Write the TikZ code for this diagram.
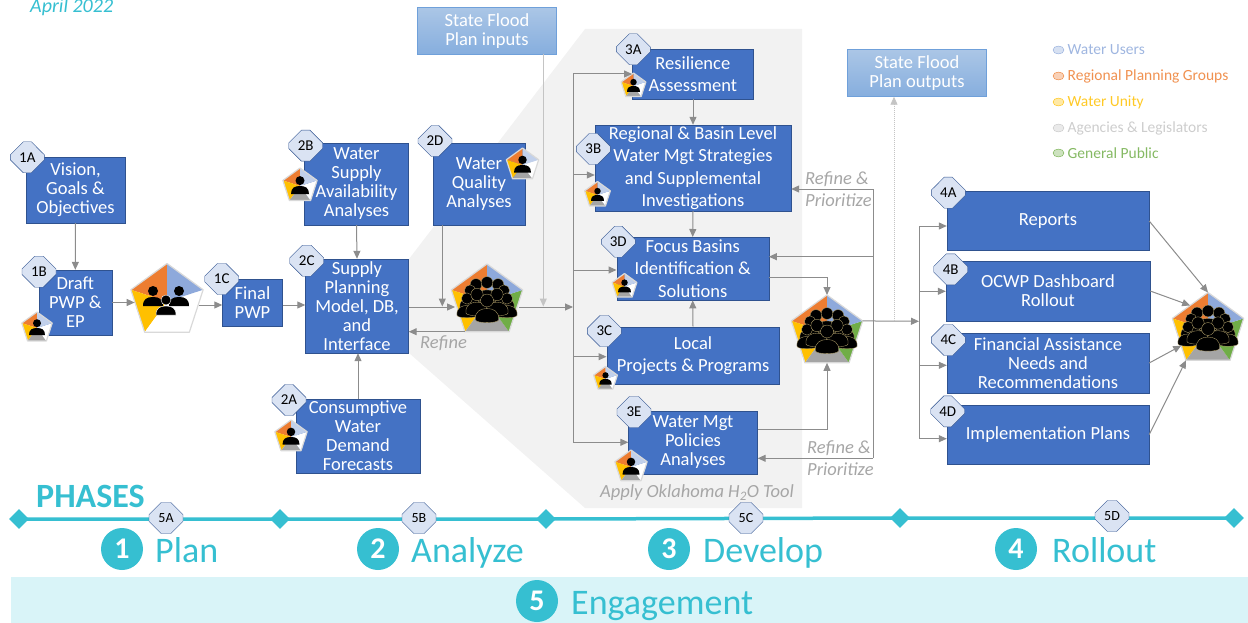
\documentclass[tikz,border=0pt]{standalone}
\usepackage{fontspec}
\setmainfont{Carlito}
\usepackage{xcolor}
\usetikzlibrary{arrows.meta,calc,shapes.geometric,shapes.misc}

\definecolor{boxblue}{HTML}{4472C4}
\definecolor{boxedge}{HTML}{2F528F}
\definecolor{hexfill}{HTML}{DAE3F3}
\definecolor{teal}{HTML}{36BFD1}
\definecolor{paleteal}{HTML}{D9F4F8}
\definecolor{panelgray}{HTML}{F2F2F2}
\definecolor{flowgray}{HTML}{8C8C8C}
\definecolor{softgray}{HTML}{C4C4C4}
\definecolor{notegray}{HTML}{A6A6A6}
\definecolor{wedgeblue}{HTML}{8EA9DB}
\definecolor{wedgeorange}{HTML}{ED7D31}
\definecolor{wedgeyellow}{HTML}{FFC000}
\definecolor{wedgegray}{HTML}{A5A5A5}
\definecolor{wedgegreen}{HTML}{70AD47}
\definecolor{pentedge}{HTML}{D9D9D9}
\definecolor{floodtop}{HTML}{ABC6E6}
\definecolor{floodlow}{HTML}{86AEDE}
\definecolor{floodedge}{HTML}{6FA0DA}

\newcommand{\boxfont}{\fontsize{18.5}{19}\selectfont}
\newcommand{\widefont}{\fontsize{18.5}{22.5}\selectfont}
\newcommand{\notefont}{\fontsize{18.5}{21.5}\selectfont\itshape}

\tikzset{
  bluebox/.style 2 args={draw=boxedge, fill=boxblue, text=white, inner sep=0pt, align=center,
    font=\boxfont, minimum width=#1pt, minimum height=#2pt},
  floodbox/.style={draw=floodedge, top color=floodtop, bottom color=floodlow,
    text=white, inner sep=0pt, align=center, font=\boxfont, minimum width=139pt, minimum height=47pt},
  hexa/.style={chamfered rectangle, chamfered rectangle xsep=8pt, chamfered rectangle ysep=15.5pt, draw=boxedge, fill=hexfill,
    inner sep=0pt, minimum width=34pt, minimum height=31pt, font=\fontsize{15}{15}\selectfont},
  penta/.style={regular polygon, regular polygon sides=5, inner sep=0pt, outer sep=0pt, minimum size=#1pt},
  flow/.style={draw=flowgray, line width=1pt, -{Triangle[length=8pt,width=7pt]}},
  trunk/.style={draw=flowgray, line width=1pt},
  softflow/.style={draw=softgray, line width=1pt, -{Triangle[length=8pt,width=7pt]}},
  note/.style={text=notegray, font=\notefont, align=left, inner sep=0pt},
  knob/.style={diamond, fill=teal, inner sep=0pt, minimum size=20pt},
  phasenum/.style={circle, fill=teal, text=white, inner sep=0pt, minimum size=42pt, font=\fontsize{30}{30}\selectfont\bfseries},
  phaseword/.style={anchor=base west, text=teal, inner sep=0pt, font=\fontsize{36}{36}\selectfont},
  legdot/.style={ellipse, draw=#1, fill=#1!35!white, inner sep=0pt, minimum width=11pt, minimum height=8pt},
  person/.pic={
    \path[fill=black, pic actions] (0,0) circle (5);
    \path[fill=black, pic actions] (-10,15) .. controls (-10,8) and (-6,6) .. (0,6) .. controls (6,6) and (10,8) .. (10,15) -- cycle;
  },
  member/.pic={
    \path[fill=black, pic actions] (0,0) circle (5.6);
    \path[fill=black, pic actions] (-10,17) .. controls (-11,9) and (-5,7) .. (0,7) .. controls (5,7) and (11,9) .. (10,17)
      .. controls (9,20) and (-9,20) .. (-10,17) -- cycle;
  }
}

% name, position, diameter, then the wedges from top left round to top right
\newcommand{\pentfan}[8]{
  \node[penta=#3] (#1) at (#2) {};
  \fill[#4] (#1.center) -- (#1.corner 1) -- (#1.corner 2) -- cycle;
  \fill[#5] (#1.center) -- (#1.corner 2) -- (#1.corner 3) -- cycle;
  \fill[#6] (#1.center) -- (#1.corner 3) -- (#1.corner 4) -- cycle;
  \fill[#7] (#1.center) -- (#1.corner 4) -- (#1.corner 5) -- cycle;
  \fill[#8] (#1.center) -- (#1.corner 5) -- (#1.corner 1) -- cycle;
  \draw[pentedge, line width=1.2pt, line join=round] (#1.corner 1) -- (#1.corner 2) -- (#1.corner 3) -- (#1.corner 4) -- (#1.corner 5) -- cycle;
}
% one person on a small pentagon
\newcommand{\lonepent}[4]{
  \pentfan{#1}{#2}{#3}{wedgeorange}{wedgeyellow}{wedgegray}{white}{wedgeblue!55!white}
  \pic[scale=#4] at ($(#1.center)+(0,-#4*6)$) {person};
}
% the full crowd on a large pentagon
\newcommand{\crowdpent}[2]{
  \pentfan{#1}{#2}{75}{wedgeorange}{wedgeyellow}{wedgegray}{wedgegreen}{wedgeblue}
  \begin{scope}[shift={(#1.center)}]
    \foreach \dx/\dy/\s in {-11/-17/1.05, 11/-17/1.05, 0/-19/1.05, -17/-11/1, 17/-11/1, -20/-3/1, 20/-3/1, -10/-7/1.1, 10/-7/1.1, 0/-1/1.15}
      \pic[scale=\s, draw=wedgegray!70!wedgeyellow, line width=.3pt] at (\dx,\dy) {member};
  \end{scope}
}

\begin{document}
\begin{tikzpicture}[x=1pt, y=-1pt]
  \useasboundingbox (0,0) rectangle (1248,623);

  % backgrounds
  \fill[panelgray] (585,29) -- (802,29) -- (802,508) -- (585,508) -- (409,353) -- (409,259) -- cycle;
  \fill[paleteal] (11,577) rectangle (1248,623);
  \node[anchor=base west, inner sep=0pt, text=teal, font=\fontsize{20}{20}\selectfont\itshape] (datenote) at (30,13) {April 2022};

  % legend
  \foreach \y/\c/\t in {50/wedgeblue/Water Users, 76/wedgeorange/Regional Planning Groups, 102/wedgeyellow/Water Unity, 128/softgray/Agencies \& Legislators, 153/wedgegreen/General Public}{
    \node[legdot=\c] (dot\y) at (1058.5,\y) {};
    \node[anchor=west, inner sep=0pt, text=\c!85!white, font=\fontsize{15.5}{16}\selectfont] (leg\y) at (1067.5,\y) {\t};
  }

  % stage 1
  \node[bluebox={99}{66}] (boxa) at (75.5,190) {Vision,\\Goals \&\\Objectives};
  \node[bluebox={73}{65}] (boxb) at (75.3,302.5) {Draft\\PWP \&\\EP};
  \node[bluebox={60}{47}] (boxc) at (252.5,302.3) {Final\\PWP};
  % stage 2
  \node[bluebox={104}{82}] (boxsupply) at (356.5,184) {Water\\Supply\\Availability\\Analyses};
  \node[bluebox={103}{94}] (boxmodel) at (357,306) {Supply\\Planning\\Model, DB,\\and\\Interface};
  \node[bluebox={124}{74}] (boxdemand) at (358,436) {Consumptive\\Water\\Demand\\Forecasts};
  \node[bluebox={92}{82}] (boxquality) at (479,184) {Water\\Quality\\Analyses};
  % stage 3
  \node[bluebox={121}{50}, font=\widefont] (boxresil) at (692.8,74) {Resilience\\Assessment};
  \node[bluebox={196}{86}, font=\widefont] (boxbasin) at (693,168) {Regional \& Basin Level\\Water Mgt Strategies\\and Supplemental\\Investigations};
  \node[bluebox={152}{63}, font=\widefont] (boxfocus) at (692.7,268.7) {Focus Basins\\Identification \&\\Solutions};
  \node[bluebox={172.6}{57.6}, font=\widefont] (boxlocal) at (693,355.5) {Local\\Projects \& Programs};
  \node[bluebox={129}{63.6}] (boxpolicy) at (693,442.5) {Water Mgt\\Policies\\Analyses};
  % stage 4
  \node[bluebox={202}{59}] (boxreport) at (1048,221) {Reports};
  \node[bluebox={204}{60}] (boxdash) at (1048,291) {OCWP Dashboard\\Rollout};
  \node[bluebox={202}{60.6}] (boxfund) at (1048,363) {Financial Assistance\\Needs and\\Recommendations};
  \node[bluebox={202}{59}] (boximpl) at (1048,434.7) {Implementation Plans};
  % flood plan
  \node[floodbox] (sfin) at (487,30.7) {State Flood\\Plan inputs};
  \node[floodbox] (sfout) at (917,73) {State Flood\\Plan outputs};

  % pentagons
  \pentfan{pa}{167,301.5}{76}{wedgeorange}{wedgeyellow}{white}{white}{wedgeblue}
  \begin{scope}[shift={(pa.center)}]
    \pic at (-14,-10.5) {person};
    \pic at (12,-10.5) {person};
    \pic[draw=white, line width=.4pt] at (-1,-1.5) {person};
  \end{scope}
  \crowdpent{pb}{487,301.5}
  \crowdpent{pc}{827,332.5}
  \crowdpent{pd}{1208,330}
  \lonepent{pbox}{37,328}{32}{.8}
  \lonepent{psupply}{300,186}{36}{.9}
  \lonepent{pdemand}{291,437}{34}{.85}
  \lonepent{pquality}{522.5,165}{34}{.85}
  \lonepent{presil}{633.5,86}{26}{.65}
  \lonepent{pbasin}{597.5,195}{27}{.65}
  \lonepent{pfocus}{624.5,286.5}{26}{.65}
  \lonepent{plocal}{605.5,379}{25}{.62}
  \lonepent{ppolicy}{631,467}{34}{.85}

  % hexagon tags
  \node[hexa] (taga) at (27.3,157.3) {1A};
  \node[hexa] (tagb) at (39,271.7) {1B};
  \node[hexa] (tagc) at (221.7,279) {1C};
  \node[hexa] (tagsupply) at (305.7,145.7) {2B};
  \node[hexa] (tagmodel) at (306.7,260.7) {2C};
  \node[hexa] (tagdemand) at (289,400) {2A};
  \node[hexa] (tagquality) at (435,141) {2D};
  \node[hexa] (tagresil) at (633.3,49.3) {3A};
  \node[hexa] (tagbasin) at (593.3,149) {3B};
  \node[hexa] (tagfocus) at (618.3,241.7) {3D};
  \node[hexa] (taglocal) at (604.3,331) {3C};
  \node[hexa] (tagpolicy) at (634,412) {3E};
  \node[hexa] (tagreport) at (948.3,192.7) {4A};
  \node[hexa] (tagdash) at (950.7,269.3) {4B};
  \node[hexa] (tagfund) at (948.3,340) {4C};
  \node[hexa] (tagimpl) at (947.7,411.3) {4D};

  % junction points
  \coordinate (rowa) at (0,305);
  \coordinate (rowb) at (0,307);
  \coordinate (dropq) at (442.3,306.5);
  \coordinate (dropf) at (543.3,306.5);
  \coordinate (backb) at (0,331.7);
  \coordinate (spinetop) at (573,74);
  \coordinate (spinebasin) at (573,175);
  \coordinate (spinefocus) at (573,270);
  \coordinate (spinemid) at (573,307);
  \coordinate (spinelocal) at (573,356.7);
  \coordinate (spinelow) at (573,442.3);
  \coordinate (loopup) at (873,189);
  \coordinate (loopmid) at (873,256.7);
  \coordinate (looplow) at (873,458.3);
  \coordinate (outfocus) at (768.7,277.3);
  \coordinate (outpolicy) at (757.7,429.3);
  \coordinate (hubreport) at (919,226);
  \coordinate (hubdash) at (919,291.3);
  \coordinate (hubin) at (919,321.3);
  \coordinate (hubfund) at (919,365.3);
  \coordinate (hubimpl) at (919,438.7);
  \coordinate (upfork) at (894,321.3);

  % stage 1 and 2 connectors
  \draw[flow] (boxa.south) -- (boxb.north);
  \draw[flow] (boxb.east) -- (boxb.east -| pa.west);
  \draw[flow] (pa.east |- rowa) -- (boxc.west |- rowa);
  \draw[flow] (boxc.east |- rowa) -- (boxmodel.west |- rowa);
  \draw[flow] (boxsupply.south) -- (boxmodel.north);
  \draw[flow] (boxdemand.north) -- (boxdemand.north |- boxmodel.south);
  \draw[flow] (boxmodel.east |- rowb) -- (pb.west |- rowb);
  \draw[flow] (boxquality.south -| dropq) -- (dropq);
  \draw[flow] (pb.corner 3 |- backb) -- (boxmodel.east |- backb);
  \draw[flow] (pb.east |- rowb) -- (spinemid);
  \draw[softflow] (sfin.south -| dropf) -- (dropf);

  % stage 3 connectors
  \draw[trunk] (spinetop) -- (spinelow);
  \draw[flow] (spinetop) -- (boxresil.west);
  \draw[flow] (spinebasin) -- (spinebasin -| boxbasin.west);
  \draw[flow] (spinefocus) -- (spinefocus -| boxfocus.west);
  \draw[flow] (spinelocal) -- (spinelocal -| boxlocal.west);
  \draw[flow] (spinelow) -- (spinelow -| boxpolicy.west);
  \draw[flow] (boxresil.south -| boxbasin.north) -- (boxbasin.north);
  \draw[flow] (boxbasin.south) -- (boxfocus.north);
  \draw[flow] (boxlocal.north) -- (boxfocus.south);
  \draw[flow] (outfocus) -| (pc.corner 1);
  \draw[flow] (outpolicy) -| (pc.south);
  \draw[trunk] (loopup) -- (looplow);
  \draw[flow] (loopup) -- (loopup -| boxbasin.east);
  \draw[flow] (loopmid) -- (loopmid -| boxfocus.east);
  \draw[flow] (looplow) -- (looplow -| boxpolicy.east);

  % stage 4 connectors
  \draw[flow] (pc.corner 5) -- (hubin);
  \draw[softflow, densely dotted, line width=.8pt] (upfork) -- (upfork |- sfout.south);
  \draw[trunk] (hubreport) -- (hubimpl);
  \draw[flow] (hubreport) -- (hubreport -| boxreport.west);
  \draw[flow] (hubdash) -- (hubdash -| boxdash.west);
  \draw[flow] (hubfund) -- (hubfund -| boxfund.west);
  \draw[flow] (hubimpl) -- (hubimpl -| boximpl.west);
  \draw[flow] (boxreport.east) -- (pd.corner 1);
  \draw[flow] (boxdash.east) -- ($(pd.corner 1)!0.5!(pd.corner 2)$);
  \draw[flow] (boxfund.east) -- ($(pd.corner 2)!0.65!(pd.corner 3)$);
  \draw[flow] (boximpl.east) -- (pd.corner 3);

  % notes
  \node[note, anchor=base west] (notea) at (420,348) {Refine};
  \node[note, anchor=west] (noteb) at (805,189) {Refine \&\\Prioritize};
  \node[note, anchor=west] (notec) at (807,458) {Refine \&\\Prioritize};
  \node[note, anchor=west] (noted) at (600,493) {Apply Oklahoma H\textsubscript{2}O Tool};

  % phases
  \node[anchor=base west, inner sep=0pt, text=teal, font=\fontsize{34}{34}\selectfont\bfseries] (phasehead) at (36,507) {PHASES};
  \node[knob] (knoba) at (19,519) {};
  \node[knob] (knobb) at (280,519) {};
  \node[knob] (knobc) at (546,519) {};
  \node[knob] (knobd) at (900,518) {};
  \node[knob] (knobe) at (1234,518) {};
  \draw[teal, line width=3.5pt] (knoba.center) -- (knobb.center) -- (knobc.center) -- (knobd.center) -- (knobe.center);
  \node[hexa, font=\fontsize{14}{14}\selectfont] (tagplan) at (166,518) {5A};
  \node[hexa, font=\fontsize{14}{14}\selectfont] (taganalyze) at (419,518) {5B};
  \node[hexa, font=\fontsize{14}{14}\selectfont] (tagdevelop) at (746,518) {5C};
  \node[hexa, font=\fontsize{14}{14}\selectfont] (tagrollout) at (1112,516) {5D};
  \node[phasenum] (numa) at (122,549) {1};
  \node[phaseword] (worda) at (155,562) {Plan};
  \node[phasenum] (numb) at (378,549) {2};
  \node[phaseword] (wordb) at (411,562) {Analyze};
  \node[phasenum] (numc) at (669,549) {3};
  \node[phaseword] (wordc) at (703,562) {Develop};
  \node[phasenum] (numd) at (1016,549) {4};
  \node[phaseword] (wordd) at (1052,562) {Rollout};
  \node[phasenum] (nume) at (537,601) {5};
  \node[phaseword] (worde) at (571,614) {Engagement};
\end{tikzpicture}
\end{document}
